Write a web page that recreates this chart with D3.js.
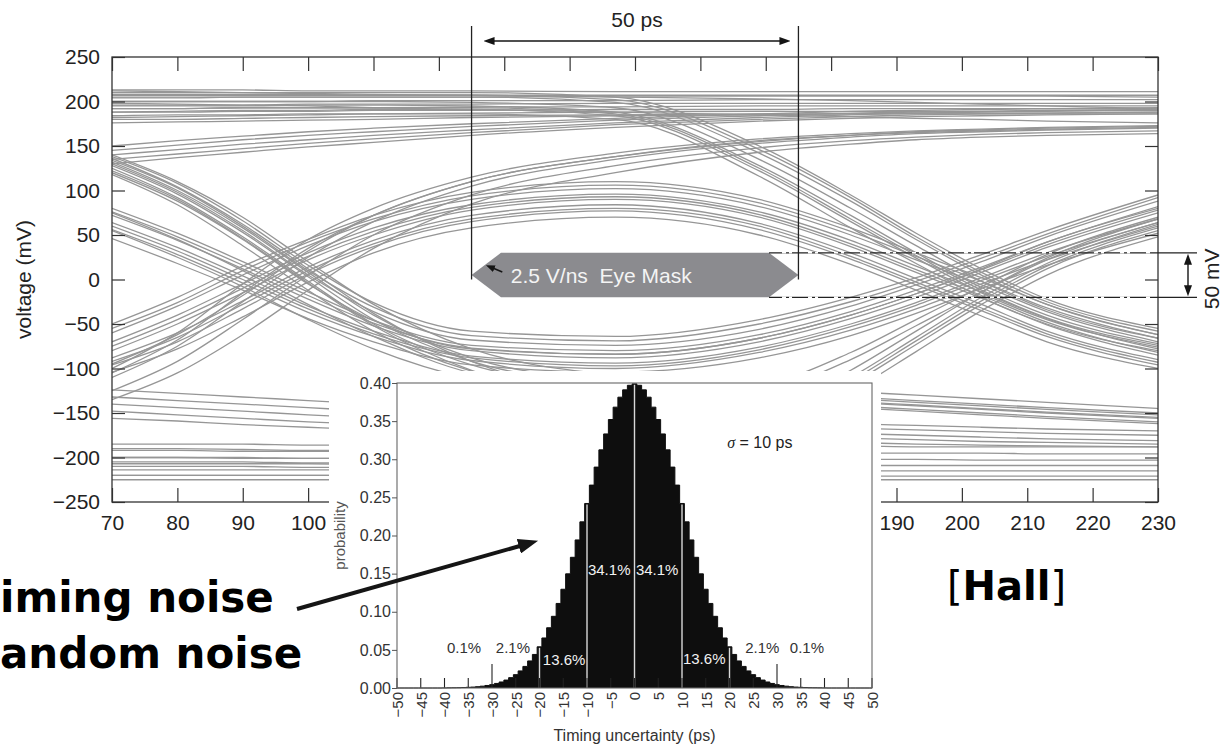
<!DOCTYPE html>
<html>
<head>
<meta charset="utf-8">
<script src="https://cdn.jsdelivr.net/npm/d3@7"></script>
<style>
  body { margin: 0; background: #fff; }
  svg { display: block; }
  text { font-family: "Liberation Sans", Arial, Helvetica, sans-serif; }
</style>
</head>
<body>
<svg id="chart" width="1222" height="747"></svg>
<script>
// ---------------- eye diagram data (ps, mV) ----------------
const sampleTimes = [70, 80, 90, 100, 110, 125, 147, 169, 183, 193, 203, 213, 230];

// long runs of ones
const highRuns = [
  [213,213,213,212,212,212,211,211,211,211,211,211,211],
  [208,208,208,208,207,207,207,207,207,207,207,207,207],
  [204,204,205,205,205,205,206,206,206,206,206,206,205],
  [200,200,200,200,201,201,201,202,202,202,202,202,202],
  [196,196,196,197,197,197,198,198,198,198,198,198,198],
  [192,192,193,193,193,194,194,195,195,195,195,195,195],
  [188,188,189,189,190,190,191,191,192,192,192,192,192],
  [184,185,185,186,186,187,188,189,189,189,189,190,190],
  [180,180,181,182,183,184,185,186,186,187,187,187,188],
  [176,177,178,179,180,182,184,185,186,186,186,186,186],
  [212,211,210,209,208,207,205,203,201,199,197,195,192],
  [198,197,196,195,193,191,188,185,183,181,180,178,176]
];
// ones still settling after an earlier rising edge
const settlingHigh = [
  [150,156,161,166,170,175,181,186,189,190,191,192,193],
  [145,151,157,162,166,172,179,184,187,188,189,190,191],
  [140,146,152,157,162,168,176,182,185,187,188,189,190],
  [135,141,147,153,158,165,174,180,183,185,186,187,188],
  [130,137,143,149,154,162,171,178,181,183,184,185,186]
];
// rising edge at the left crossing, stays high
const riseStayHigh = [
  [-100,-60,-5,45,80,115,142,158,164,167,169,171,173],
  [-110,-75,-25,25,65,105,135,153,160,164,166,168,170],
  [-125,-92,-45,5,50,95,128,148,156,160,163,165,167],
  [-135,-105,-62,-12,35,85,120,143,152,157,160,162,164],
  [-95,-62,-18,32,72,110,138,156,162,166,168,170,172],
  [-105,-68,-15,35,72,110,138,155,162,165,167,169,171]
];
// isolated one: rising at the left crossing, falling at the right one
const isolatedOne = [
  [-50,-20,15,45,72,98,110,90,58,30,2,-28,-62],
  [-55,-26,10,42,68,94,106,86,54,26,-2,-32,-66],
  [-60,-30,5,38,65,90,102,82,50,22,-6,-36,-70],
  [-70,-40,-5,30,58,84,96,76,44,15,-14,-44,-78],
  [-75,-45,-10,26,54,81,93,73,40,11,-18,-48,-82],
  [-80,-50,-15,22,50,78,90,70,37,8,-21,-51,-85],
  [-88,-60,-24,14,44,72,84,63,30,1,-28,-58,-90],
  [-92,-65,-28,10,40,68,80,60,26,-3,-32,-61,-93],
  [-96,-70,-33,6,37,65,77,56,23,-6,-35,-64,-96],
  [-104,-78,-42,-3,30,58,70,50,17,-12,-41,-70,-100]
];
// settled high, falling at the right crossing
const fallRight = [
  [210,210,210,210,210,210,205,150,95,52,12,-22,-55],
  [207,207,207,207,207,207,202,146,92,48,8,-25,-58],
  [205,205,205,205,205,205,199,142,88,45,5,-28,-62],
  [200,200,200,200,200,199,193,135,80,38,-2,-34,-66],
  [195,195,195,196,196,195,188,128,72,30,-9,-40,-72],
  [192,192,193,193,193,193,186,125,68,27,-12,-43,-74],
  [188,189,190,190,191,191,184,122,65,24,-15,-45,-76],
  [182,183,184,185,186,186,180,116,58,18,-20,-50,-80]
];
// falling at the left crossing, stays low
const fallStayLow = [
  [140,110,70,20,-28,-78,-108,-120,-126,-130,-134,-138,-145],
  [132,100,58,8,-40,-88,-115,-126,-132,-136,-140,-144,-150],
  [128,96,53,3,-45,-92,-118,-128,-134,-138,-142,-146,-152],
  [125,92,48,-2,-50,-96,-121,-131,-137,-141,-145,-149,-155],
  [118,84,38,-12,-58,-103,-127,-136,-142,-146,-150,-154,-160],
  [75,45,10,-28,-64,-105,-124,-133,-138,-142,-146,-150,-156],
  [55,25,-8,-45,-78,-112,-130,-139,-144,-148,-152,-156,-162]
];
// isolated zero: falling at the left crossing, rising at the right one
const isolatedZero = [
  [138,108,66,16,-26,-58,-64,-45,-20,2,28,55,95],
  [134,103,60,10,-31,-63,-69,-50,-25,-2,24,51,92],
  [130,98,55,5,-36,-68,-74,-56,-30,-6,20,48,88],
  [120,88,45,-5,-46,-78,-84,-66,-40,-16,12,42,80],
  [80,52,20,-14,-46,-74,-80,-62,-36,-12,14,42,82],
  [76,48,16,-18,-49,-77,-84,-66,-40,-16,11,39,78],
  [72,44,12,-22,-52,-80,-88,-70,-44,-20,8,36,75],
  [64,36,4,-30,-58,-86,-94,-76,-50,-26,2,30,68],
  [60,32,0,-33,-61,-88,-97,-79,-53,-29,-1,26,64],
  [56,28,-4,-37,-64,-91,-100,-82,-57,-33,-5,22,60],
  [46,18,-12,-44,-70,-96,-104,-88,-63,-38,-10,16,52]
];
// low, rising at the right crossing
const riseRight = [
  [-200,-200,-201,-201,-201,-200,-195,-160,-110,-65,-20,18,62],
  [-205,-205,-205,-206,-206,-205,-199,-164,-114,-69,-24,15,58],
  [-210,-210,-210,-211,-211,-210,-203,-168,-118,-73,-28,12,55],
  [-190,-190,-191,-192,-192,-191,-186,-152,-102,-58,-14,24,68],
  [-220,-220,-220,-220,-220,-219,-212,-176,-126,-81,-35,5,48],
  [136,104,62,12,-38,-92,-128,-118,-82,-45,-8,28,70],
  [122,90,46,-4,-52,-102,-136,-126,-90,-52,-14,22,64]
];
// long runs of zeros
const lowRuns = [
  [-185,-185,-185,-186,-186,-186,-187,-187,-187,-188,-188,-188,-188],
  [-192,-192,-193,-193,-193,-194,-194,-195,-195,-195,-195,-196,-196],
  [-200,-200,-200,-201,-201,-201,-202,-202,-202,-202,-203,-203,-203],
  [-207,-207,-207,-207,-208,-208,-208,-208,-209,-209,-209,-209,-209],
  [-214,-214,-214,-214,-214,-215,-215,-215,-215,-215,-215,-215,-215],
  [-220,-220,-220,-220,-220,-220,-221,-221,-221,-221,-221,-221,-221],
  [-225,-225,-225,-225,-225,-225,-225,-225,-225,-225,-225,-225,-225]
];
// zeros still settling after an earlier falling edge
const settlingLow = [
  [-124,-128,-132,-136,-140,-146,-152,-158,-162,-164,-166,-168,-170],
  [-132,-136,-140,-144,-148,-153,-159,-164,-167,-169,-171,-173,-175],
  [-140,-144,-148,-152,-156,-160,-166,-170,-173,-175,-177,-179,-181],
  [-148,-152,-156,-160,-163,-167,-172,-176,-178,-180,-182,-183,-185],
  [-156,-159,-163,-166,-169,-173,-177,-181,-183,-185,-186,-187,-188]
];

const timeTicks = [70, 80, 90, 100, 110, 120, 130, 140, 150, 160, 170, 180, 190, 200, 210, 220, 230];
const timeLabels = [70, 80, 90, 100, 190, 200, 210, 220, 230];
const voltTicks = [250, 200, 150, 100, 50, 0, -50, -100, -150, -200, -250];

// mask polygon (ps, mV) and its width / height markers
const eyeMask = [[125, 5], [129.5, 30], [170.5, 30], [175, 5], [170.5, -20], [129.5, -20]];
const maskTimes = [125, 175];
const maskVolts = [30, -20];

// ---------------- timing jitter distribution ----------------
const jitterTicks = [-50, -45, -40, -35, -30, -25, -20, -15, -10, -5, 0, 5, 10, 15, 20, 25, 30, 35, 40, 45, 50];
const jitterProb = [
  0, 0, 0, 0, 0, 0, 0, 0, 0, 0,
  0.0001, 0.0002, 0.0003, 0.0004, 0.0006, 0.0009, 0.0012, 0.0017, 0.0024, 0.0033,
  0.0044, 0.0060, 0.0079, 0.0104, 0.0136, 0.0175, 0.0224, 0.0283, 0.0355, 0.0440,
  0.0540, 0.0656, 0.0790, 0.0940, 0.1109, 0.1295, 0.1497, 0.1714, 0.1942, 0.2179,
  0.2420, 0.2661, 0.2897, 0.3123, 0.3332, 0.3521, 0.3683, 0.3814, 0.3910, 0.3970,
  0.3989,
  0.3970, 0.3910, 0.3814, 0.3683, 0.3521, 0.3332, 0.3123, 0.2897, 0.2661, 0.2420,
  0.2179, 0.1942, 0.1714, 0.1497, 0.1295, 0.1109, 0.0940, 0.0790, 0.0656, 0.0540,
  0.0440, 0.0355, 0.0283, 0.0224, 0.0175, 0.0136, 0.0104, 0.0079, 0.0060, 0.0044,
  0.0033, 0.0024, 0.0017, 0.0012, 0.0009, 0.0006, 0.0004, 0.0003, 0.0002, 0.0001,
  0, 0, 0, 0, 0, 0, 0, 0, 0, 0
];
const jitterTimes = d3.range(-50, 51);
const probTicks = [0, 0.05, 0.10, 0.15, 0.20, 0.25, 0.30, 0.35, 0.40];
const sigmaLines = [-20, -10, 0, 10, 20];
const tailMarks = [-30, 30];
const bandLabels = ["0.1%", "2.1%", "13.6%", "34.1%", "34.1%", "13.6%", "2.1%", "0.1%"];

// ---------------- drawing ----------------
const svg = d3.select("#chart");
const defs = svg.append("defs");

function addHead(id, len, wid) {
  defs.append("marker").attr("id", id)
    .attr("viewBox", `0 0 ${len} ${wid}`).attr("refX", 1).attr("refY", wid / 2)
    .attr("markerWidth", len).attr("markerHeight", wid)
    .attr("markerUnits", "userSpaceOnUse").attr("orient", "auto-start-reverse")
    .append("path").attr("d", `M0,0L${len},${wid / 2}L0,${wid}Z`).attr("fill", "#151515");
}
addHead("headSmall", 11, 8);
addHead("headBig", 20, 15);
addHead("headTiny", 9, 7);

function arrow(g, x1, y1, x2, y2, head, len, width, both) {
  const dx = x2 - x1, dy = y2 - y1, d = Math.hypot(dx, dy);
  const ux = dx / d, uy = dy / d, k = len - 1;
  const sx = both ? x1 + ux * k : x1, sy = both ? y1 + uy * k : y1;
  g.append("line")
    .attr("x1", sx).attr("y1", sy).attr("x2", x2 - ux * k).attr("y2", y2 - uy * k)
    .attr("stroke", "#151515").attr("stroke-width", width)
    .attr("marker-end", `url(#${head})`)
    .attr("marker-start", both ? `url(#${head})` : null);
}

const x = d3.scaleLinear().domain([70, 230]).range([112, 1158]);
const y = d3.scaleLinear().domain([-250, 250]).range([502, 57]);

defs.append("clipPath").attr("id", "plotClip").append("rect")
  .attr("x", 112).attr("y", 57).attr("width", 1046).attr("height", 445);

const eye = svg.append("g");

const traces = [].concat(highRuns, settlingHigh, riseStayHigh, isolatedOne, fallRight,
  fallStayLow, isolatedZero, riseRight, lowRuns, settlingLow);

const traceLine = d3.line()
  .x((d, i) => x(sampleTimes[i]))
  .y(d => y(d))
  .curve(d3.curveMonotoneX);

eye.append("g").attr("clip-path", "url(#plotClip)")
  .selectAll("path").data(traces).join("path")
  .attr("d", traceLine)
  .attr("fill", "none")
  .attr("stroke", "#969696")
  .attr("stroke-width", 1.3);

// axes with inward ticks on all four sides
function styleAxis(g) {
  g.select(".domain").remove();
  g.selectAll(".tick line").attr("stroke", "#333").attr("stroke-width", 1.2);
  g.selectAll("text").attr("fill", "#222").style("font-size", "21px");
}
eye.append("g").attr("transform", "translate(0,502)")
  .call(d3.axisBottom(x).tickValues(timeTicks).tickSizeInner(-14).tickSizeOuter(0).tickPadding(13)
    .tickFormat(d => timeLabels.includes(d) ? d3.format("d")(d) : ""))
  .call(styleAxis);
eye.append("g").attr("transform", "translate(0,57)")
  .call(d3.axisTop(x).tickValues(timeTicks).tickSizeInner(-14).tickSizeOuter(0).tickFormat(""))
  .call(styleAxis);
eye.append("g").attr("transform", "translate(112,0)")
  .call(d3.axisLeft(y).tickValues(voltTicks).tickSizeInner(-13).tickSizeOuter(0).tickPadding(12))
  .call(styleAxis);
eye.append("g").attr("transform", "translate(1158,0)")
  .call(d3.axisRight(y).tickValues(voltTicks).tickSizeInner(-13).tickSizeOuter(0).tickFormat(""))
  .call(styleAxis);

eye.append("rect").attr("x", 112).attr("y", 57).attr("width", 1046).attr("height", 445)
  .attr("fill", "none").attr("stroke", "#333").attr("stroke-width", 1.3);

eye.append("text")
  .attr("transform", `translate(31,${y(0)}) rotate(-90)`)
  .attr("text-anchor", "middle").attr("fill", "#222").style("font-size", "21px")
  .text("voltage (mV)");

// eye mask
eye.append("polygon")
  .attr("points", eyeMask.map(p => [x(p[0]), y(p[1])].join(",")).join(" "))
  .attr("fill", "#8b8b8f");
eye.append("text")
  .attr("x", x(131)).attr("y", y(-4))
  .attr("fill", "#f4f4f4").style("font-size", "21px").style("white-space", "pre")
  .text("2.5 V/ns  Eye Mask");
arrow(eye, x(129.7), y(8.5), x(127.2), y(16), "headTiny", 9, 1.6, false);

// 50 ps window markers
maskTimes.forEach(t => {
  eye.append("line").attr("x1", x(t)).attr("x2", x(t)).attr("y1", 26).attr("y2", y(0))
    .attr("stroke", "#222").attr("stroke-width", 1.3);
});
arrow(eye, x(maskTimes[0]) + 12, 41, x(maskTimes[1]) - 8, 41, "headSmall", 11, 1.4, true);
eye.append("text").attr("x", (x(maskTimes[0]) + x(maskTimes[1])) / 2 + 2).attr("y", 27)
  .attr("text-anchor", "middle").attr("fill", "#222").style("font-size", "21px").text("50 ps");

// 50 mV window markers
maskVolts.forEach(v => {
  eye.append("line").attr("x1", x(170.5)).attr("x2", 1197).attr("y1", y(v)).attr("y2", y(v))
    .attr("stroke", "#222").attr("stroke-width", 1.2);
});
eye.selectAll(".dashSeg").data(maskVolts).join("line")
  .attr("x1", x(170.5)).attr("x2", x(229)).attr("y1", d => y(d)).attr("y2", d => y(d))
  .attr("stroke", "#fff").attr("stroke-width", 1.6).attr("stroke-dasharray", "0 13 4 3 3 3");
arrow(eye, 1188, y(maskVolts[0]) + 1, 1188, y(maskVolts[1]) - 1, "headSmall", 11, 1.4, true);
eye.append("text").attr("transform", `translate(1219,${y(maskVolts[1]) + 12}) rotate(-90)`)
  .attr("fill", "#222").style("font-size", "21px").text("50 mV");

// ---------------- inset: timing jitter histogram ----------------
const inset = svg.append("g");
inset.append("rect").attr("x", 329).attr("y", 371).attr("width", 552).attr("height", 376).attr("fill", "#fff");

const ix = d3.scaleLinear().domain([-50, 50]).range([397, 872]);
const iy = d3.scaleLinear().domain([0, 0.4]).range([688, 383]);

const jitter = jitterTimes.map((t, i) => ({ t, p: jitterProb[i] }));
inset.append("path").datum(jitter)
  .attr("d", d3.area().x(d => ix(d.t)).y0(iy(0)).y1(d => iy(d.p)).curve(d3.curveStep))
  .attr("fill", "#0e0e0e");
inset.append("path").datum(jitter)
  .attr("d", d3.line().x(d => ix(d.t)).y(d => iy(d.p)).curve(d3.curveStep))
  .attr("fill", "none").attr("stroke", "#0e0e0e").attr("stroke-width", 1);

inset.selectAll(".sig").data(sigmaLines).join("line")
  .attr("x1", d => ix(d)).attr("x2", d => ix(d))
  .attr("y1", iy(0)).attr("y2", d => iy(jitterProb[d + 50]) + 1)
  .attr("stroke", "#d8d8d8").attr("stroke-width", 1.4);

// inward ticks along the baseline, longer at ±3σ
inset.selectAll(".bt").data(jitterTicks).join("line")
  .attr("x1", d => ix(d)).attr("x2", d => ix(d))
  .attr("y1", iy(0)).attr("y2", d => tailMarks.includes(d) ? iy(0) - 24 : iy(0) - 10)
  .attr("stroke", "#222").attr("stroke-width", 1.1);

inset.append("rect").attr("x", 397).attr("y", 383).attr("width", 475).attr("height", 305)
  .attr("fill", "none").attr("stroke", "#666").attr("stroke-width", 1.1);

const iyAxis = inset.append("g").attr("transform", "translate(397,0)")
  .call(d3.axisLeft(iy).tickValues(probTicks).tickSize(5).tickPadding(1).tickFormat(d3.format(".2f")));
iyAxis.select(".domain").remove();
iyAxis.selectAll(".tick line").attr("stroke", "#555");
iyAxis.selectAll("text").attr("fill", "#333").style("font-size", "16px");

const ixAxis = inset.append("g").attr("transform", `translate(0,${iy(0)})`)
  .call(d3.axisBottom(ix).tickValues(jitterTicks).tickSize(0).tickFormat(d3.format("d")));
ixAxis.select(".domain").remove();
ixAxis.selectAll("text")
  .attr("transform", "rotate(-90)").attr("x", -4).attr("y", 0).attr("dy", "0.36em")
  .style("text-anchor", "end").attr("fill", "#333").style("font-size", "15px");

inset.append("text").attr("transform", `translate(345,${iy(0.2)}) rotate(-90)`)
  .attr("text-anchor", "middle").attr("fill", "#555").style("font-size", "15px").text("probability");
inset.append("text").attr("x", ix(0)).attr("y", 741)
  .attr("text-anchor", "middle").attr("fill", "#333").style("font-size", "16px")
  .text("Timing uncertainty (ps)");

// share of samples in each sigma band
const bandAnchors = [[-39.5, 0.046], [-29.2, 0.046], [-19.3, 0.030], [-9.8, 0.148],
  [0.3, 0.148], [10.2, 0.031], [23.3, 0.046], [32.7, 0.046]];
inset.selectAll(".band").data(bandLabels).join("text")
  .attr("x", (d, i) => ix(bandAnchors[i][0]))
  .attr("y", (d, i) => iy(bandAnchors[i][1]))
  .attr("fill", (d, i) => (i >= 2 && i <= 5) ? "#f2f2f2" : "#333")
  .style("font-size", "15px")
  .text(d => d);

const sig = inset.append("text").attr("x", ix(19.5)).attr("y", iy(0.315)).style("font-size", "16px").attr("fill", "#222");
sig.append("tspan").style("font-family", "'Liberation Serif', serif").style("font-style", "italic").text("σ");
sig.append("tspan").text(" = 10 ps");

// ---------------- slide annotations ----------------
const notes = svg.append("g");
function slideLine(str, baseline) {
  notes.append("text").attr("x", 0).attr("y", baseline)
    .style("font-family", "'DejaVu Sans', Verdana, sans-serif")
    .style("font-weight", "bold").style("font-size", "42px").attr("fill", "#000")
    .text(str);
}
slideLine("iming noise", 612);
slideLine("andom noise", 668);

arrow(notes, 297, 609, ix(-20.3), iy(0.193), "headBig", 20, 4, false);

const hall = notes.append("text").attr("x", 947).attr("y", 600)
  .style("font-family", "'DejaVu Sans', Verdana, sans-serif").style("font-size", "40px").attr("fill", "#000");
hall.append("tspan").text("[");
hall.append("tspan").style("font-weight", "bold").text("Hall");
hall.append("tspan").text("]");
</script>
</body>
</html>
